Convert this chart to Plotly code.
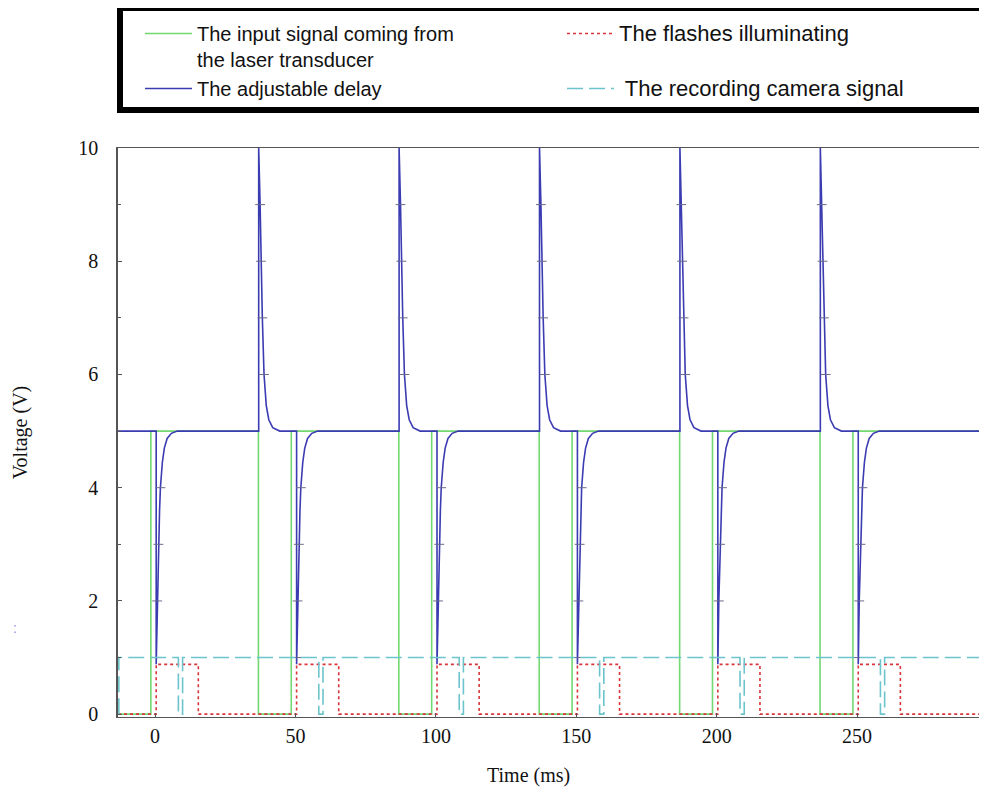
import plotly.graph_objects as go

# ---------------- data ----------------
t_min, t_max = -13.2, 293.4

# input signal (green): step signal, rising/falling edge times (ms)
green_rise = [-1.5, 48.5, 98.5, 148.5, 198.5, 248.5]
green_fall = [36.8, 86.8, 136.8, 186.8, 236.8]
green_low, green_high = 0.0, 5.0

# adjustable delay (blue): baseline with a negative dip and positive spike each cycle
blue_base = 5.0
blue_dip_times = [0.4, 50.4, 100.4, 150.4, 200.4, 250.4]
blue_spike_times = [36.9, 86.9, 136.9, 186.9, 236.9]
dip_offsets = [0.0, 0.05, 0.35, 0.8, 1.2, 1.5, 2.2, 2.9, 3.9, 5.4, 7.5]
dip_values = [0.88, 1.0, 2.0, 3.0, 3.6, 4.0, 4.45, 4.7, 4.87, 4.96, 5.0]
spike_offsets = [0.0, 0.5, 0.8, 1.3, 1.9, 2.7, 3.6, 5.0, 7.5]
spike_values = [10.0, 9.0, 8.0, 7.0, 6.0, 5.45, 5.2, 5.06, 5.0]

# flashes (red): pulses
flash_on = [0.4, 50.4, 100.4, 150.4, 200.4, 250.4]
flash_off = [15.4, 65.4, 115.4, 165.4, 215.4, 265.4]
flash_level = 0.88

# recording camera (cyan): high level with short low pulses
cam_start = -12.9
cam_low_start = [8.3, 58.3, 108.3, 158.3, 208.3, 258.3]
cam_low_end = [9.8, 59.8, 109.8, 159.8, 209.8, 259.8]
cam_high = 1.0

x_ticks = [0, 50, 100, 150, 200, 250]
y_ticks = [0, 2, 4, 6, 8, 10]

names = ["The input signal coming from<br>the laser transducer",
         "<span style='font-size:22px'>The flashes illuminating</span>",
         "The adjustable delay",
         "<span style='font-size:22px'> The recording camera signal</span>"]

# ---------------- build series ----------------
gx, gy = [t_min], [green_low]
for i, r in enumerate(green_rise):
    gx.append(r); gy.append(green_high)
    if i < len(green_fall):
        gx.append(green_fall[i]); gy.append(green_low)
gx.append(t_max); gy.append(gy[-1])

rx, ry = [t_min], [0.0]
for a, b in zip(flash_on, flash_off):
    rx += [a, b]; ry += [flash_level, 0.0]
rx.append(t_max); ry.append(0.0)

cx, cy = [cam_start, cam_start], [0.0, cam_high]
for a, b in zip(cam_low_start, cam_low_end):
    cx += [a, b]; cy += [0.0, cam_high]
cx.append(t_max); cy.append(cam_high)

bx, by = [t_min], [blue_base]
tick_x, tick_y = [], []
events = sorted([(t, "dip") for t in blue_dip_times] + [(t, "spike") for t in blue_spike_times])
for t, kind in events:
    bx.append(t); by.append(blue_base)
    offs, vals = (dip_offsets, dip_values) if kind == "dip" else (spike_offsets, spike_values)
    for o, v in zip(offs, vals):
        bx.append(t + o); by.append(v)
        if float(v).is_integer() and v not in (0, 5, 10):
            tick_x.append(t + o); tick_y.append(v)
bx.append(t_max); by.append(blue_base)

# ---------------- figure ----------------
GREEN = "#72d872"
RED = "#d8343a"
BLUE = "#3b3bb2"
CYAN = "#6cc4cc"

fig = go.Figure()
fig.add_trace(go.Scatter(x=gx, y=gy, mode="lines", line=dict(color=GREEN, width=1.6, shape="hv"),
                         name=names[0]))
fig.add_trace(go.Scatter(x=rx, y=ry, mode="lines", line=dict(color=RED, width=1.6, shape="hv", dash="dot"),
                         name=names[1]))
fig.add_trace(go.Scatter(x=bx, y=by, mode="lines", line=dict(color=BLUE, width=1.6),
                         name=names[2]))
fig.add_trace(go.Scatter(x=tick_x, y=tick_y, mode="markers", showlegend=False, hoverinfo="skip",
                         marker=dict(symbol="line-ew", size=7, line=dict(width=1, color="#6a6a8a"))))
fig.add_trace(go.Scatter(x=cx, y=cy, mode="lines", line=dict(color=CYAN, width=1.6, shape="hv", dash="16px,6px"),
                         name=names[3]))

serif = "Liberation Serif, Times New Roman, serif"
sans = "Liberation Sans, Arial, sans-serif"

# page body has an 8px margin: the figure is sized/shifted to compensate
W, H = 971, 780
ML, MT, MB = 110, 140, 71
PW, PH = W - ML, H - MT - MB


def px_x(sx):
    return (sx - 118) / PW


def px_y(sy):
    return (717 - sy) / PH


fig.update_layout(
    width=W, height=H,
    margin=dict(l=ML, r=0, t=MT, b=MB, autoexpand=False),
    paper_bgcolor="white", plot_bgcolor="white",
    showlegend=True,
    legend=dict(orientation="h", x=px_x(140), y=px_y(14), xanchor="left", yanchor="top",
                entrywidth=360, itemwidth=47, font=dict(family=sans, size=20, color="#111"),
                bgcolor="rgba(0,0,0,0)", valign="top",
                traceorder="normal", tracegroupgap=0),
    xaxis=dict(range=[t_min, t_max], tickvals=x_ticks, showgrid=False, zeroline=False,
               showline=True, linecolor="#555", linewidth=1, mirror=True,
               ticks="inside", ticklen=4, tickcolor="#555",
               tickfont=dict(family=serif, size=20, color="#111"), ticklabelstandoff=1),
    yaxis=dict(range=[-0.05, 10], tickvals=y_ticks, showgrid=False, zeroline=False,
               showline=True, linecolor="#555", linewidth=1.5,
               ticks="inside", ticklen=4, tickcolor="#555",
               minor=dict(dtick=1, ticks="inside", ticklen=3, tickcolor="#555"),
               tickfont=dict(family=serif, size=20, color="#111"), ticklabelstandoff=14,
               title=dict(text="Voltage (V)", font=dict(family=serif, size=20, color="#111"), standoff=45)),
    shapes=[dict(type="rect", xref="paper", yref="paper", x0=px_x(120), x1=1.05, y0=px_y(110), y1=px_y(8),
                 line=dict(color="black", width=6), fillcolor="rgba(0,0,0,0)", layer="above")],
    annotations=[
        dict(text="Time (ms)", xref="paper", yref="paper", x=px_x(528), y=px_y(775),
             xanchor="center", yanchor="middle",
             showarrow=False, font=dict(family=serif, size=20, color="#111")),
        dict(text=":", xref="paper", yref="paper", x=px_x(11), y=px_y(628),
             xanchor="left", yanchor="middle",
             showarrow=False, font=dict(family=sans, size=14, color="#9090e0")),
    ],
)

fig.write_html("out.html")
